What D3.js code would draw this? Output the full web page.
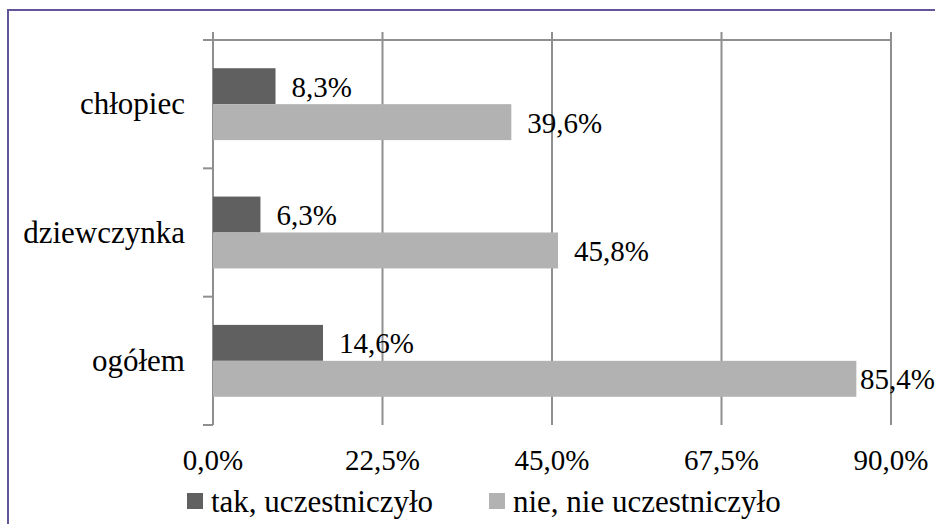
<!DOCTYPE html>
<html>
<head>
<meta charset="utf-8">
<script src="https://cdn.jsdelivr.net/npm/d3@7"></script>
</head>
<body style="margin:0">
<svg id="chart" width="935" height="524" font-family="serif"></svg>
<script>
// Survey answers by group (percent)
const categories = ["chłopiec", "dziewczynka", "ogółem"];
const seriesNames = ["tak, uczestniczyło", "nie, nie uczestniczyło"];
const takValues = [8.3, 6.3, 14.6];
const nieValues = [39.6, 45.8, 85.4];
const tickValues = [0, 22.5, 45, 67.5, 90];
const seriesColors = ["#606060", "#b2b2b2"];

const W = 935, H = 524;
const svg = d3.select("#chart");
const wordSize = "31px", numSize = "29px";
const fmt = v => d3.format(".1f")(v).replace(".", ",") + "%";

function styleText(sel, size) {
  return sel.attr("font-family", "serif")
    .style("font-family", "serif")
    .style("font-size", size);
}

// outer frame
svg.append("rect")
  .attr("x", 8).attr("y", 10)
  .attr("width", W + 10).attr("height", H + 10)
  .attr("fill", "none")
  .attr("stroke", "#64549a").attr("stroke-width", 2);

const plot = { left: 213, right: 891, top: 40, bottom: 425 };

const x = d3.scaleLinear().domain([0, 90]).range([plot.left, plot.right]);
const y = d3.scaleBand().domain(categories).range([plot.top, plot.bottom]).paddingInner(0.44).paddingOuter(0.22);
const sub = d3.scaleBand().domain([0, 1]).range([0, y.bandwidth()]);

const gridColor = "#8f8f8f";

// vertical gridlines with short ticks above the top axis
svg.append("g").selectAll("line")
  .data(tickValues.filter(d => d > 0))
  .join("line")
  .attr("x1", d => x(d)).attr("x2", d => x(d))
  .attr("y1", plot.top - 8).attr("y2", plot.bottom)
  .attr("stroke", gridColor).attr("stroke-width", 2);

// value axis line (top)
svg.append("line")
  .attr("x1", plot.left - 10).attr("x2", x(90))
  .attr("y1", plot.top).attr("y2", plot.top)
  .attr("stroke", gridColor).attr("stroke-width", 2);

// category axis line with ticks between groups
svg.append("line")
  .attr("x1", plot.left).attr("x2", plot.left)
  .attr("y1", plot.top - 8).attr("y2", plot.bottom)
  .attr("stroke", gridColor).attr("stroke-width", 2);

const bounds = d3.range(categories.length + 1).map(i => plot.top + i * (plot.bottom - plot.top) / categories.length);
svg.append("g").selectAll("line")
  .data(bounds)
  .join("line")
  .attr("x1", plot.left - 10).attr("x2", plot.left)
  .attr("y1", d => d).attr("y2", d => d)
  .attr("stroke", gridColor).attr("stroke-width", 2);

// tick labels along the bottom
styleText(svg.append("g").selectAll("text")
  .data(tickValues)
  .join("text")
  .attr("x", d => x(d))
  .attr("y", 470)
  .attr("text-anchor", "middle"), numSize)
  .text(d => fmt(d));

// category labels
styleText(svg.append("g").selectAll("text")
  .data(categories)
  .join("text")
  .attr("x", 185)
  .attr("y", d => y(d) + y.bandwidth() / 2 + 10)
  .attr("text-anchor", "end"), wordSize)
  .text(d => d);

// bars and their value labels
const series = [takValues, nieValues];
series.forEach((vals, si) => {
  const rows = categories.map((c, i) => ({ c, v: vals[i] }));
  svg.append("g").selectAll("rect")
    .data(rows)
    .join("rect")
    .attr("x", x(0))
    .attr("y", d => y(d.c) + sub(si))
    .attr("width", d => x(d.v) - x(0))
    .attr("height", sub.bandwidth())
    .attr("fill", seriesColors[si]);

  const labels = styleText(svg.append("g").selectAll("text")
    .data(rows)
    .join("text")
    .attr("y", d => y(d.c) + sub(si) + sub.bandwidth() / 2 + 10.5), numSize)
    .text(d => fmt(d.v));
  // just past the bar end, pulled back if it would run off the canvas
  labels.attr("x", function (d) {
    const w = this.getComputedTextLength();
    return Math.min(x(d.v) + 16, W - w);
  });
});

// legend
const legend = [
  { name: seriesNames[0], color: seriesColors[0], x: 187 },
  { name: seriesNames[1], color: seriesColors[1], x: 489 }
];
const lg = svg.append("g").selectAll("g").data(legend).join("g");
lg.append("rect")
  .attr("x", d => d.x).attr("y", 493)
  .attr("width", 16).attr("height", 16)
  .attr("fill", d => d.color);
styleText(lg.append("text")
  .attr("x", d => d.x + 24).attr("y", 512), wordSize)
  .text(d => d.name);
</script>
</body>
</html>
